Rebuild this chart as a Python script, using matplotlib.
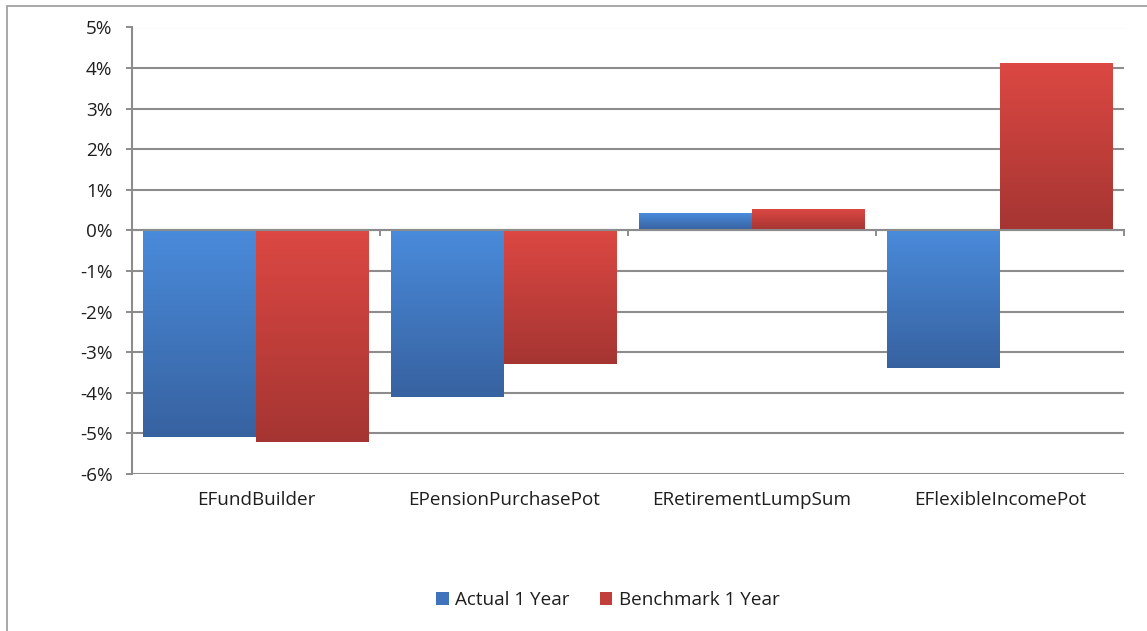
import numpy as np
import matplotlib.pyplot as plt
from matplotlib.colors import LinearSegmentedColormap
from matplotlib.patches import Patch, Rectangle

plt.rcParams['font.family'] = ['Open Sans', 'DejaVu Sans']

funds = ['EFundBuilder', 'EPensionPurchasePot', 'ERetirementLumpSum', 'EFlexibleIncomePot']
actual_1y = [-5.1, -4.1, 0.4, -3.4]
benchmark_1y = [-5.2, -3.3, 0.5, 4.1]
series_names = ['Actual 1 Year', 'Benchmark 1 Year']
yticks = list(range(-6, 6))

blue_cm = LinearSegmentedColormap.from_list('blue', ['#3762a0', '#4a8bdb'])
red_cm = LinearSegmentedColormap.from_list('red', ['#a53532', '#dc4843'])
grid_col = '#8c8c8c'
text_col = '#1e1e1e'
fs = 13.6

fig = plt.figure(figsize=(11.47, 6.31), dpi=100)
ax = fig.add_axes([132 / 1147, 1 - 474 / 631, 992 / 1147, 446.5 / 631])

# chart frame
fig.add_artist(Rectangle((7 / 1147, -0.1), 1.2, 1.1 - 6 / 631, transform=fig.transFigure,
                         fill=False, edgecolor='#9a9a9a', lw=1.2))

grad = np.linspace(0, 1, 256).reshape(-1, 1)
width = 0.455


def gradient_bar(x, val, cmap):
    lo, hi = min(0, val), max(0, val)
    ax.imshow(grad, extent=[x - width / 2, x + width / 2, lo, hi], origin='lower',
              aspect='auto', cmap=cmap, zorder=2, interpolation='bilinear')


for i in range(len(funds)):
    gradient_bar(i - width / 2, actual_1y[i], blue_cm)
    gradient_bar(i + width / 2, benchmark_1y[i], red_cm)

ax.set_xlim(-0.5, len(funds) - 0.5)
ax.set_ylim(-6, 5)
ax.set_yticks(yticks)
ax.set_yticklabels([f'{v}%' for v in yticks], fontsize=fs, color=text_col)
ax.tick_params(axis='y', length=4, width=1.4, color=grid_col, pad=10)
ax.yaxis.grid(True, color=grid_col, lw=1.5, zorder=0)
ax.set_axisbelow(True)

# category axis sits on zero, tick marks between groups
ax.spines['bottom'].set_position(('data', 0))
ax.spines['bottom'].set_color(grid_col)
ax.spines['bottom'].set_linewidth(1.5)
ax.spines['bottom'].set_zorder(5)
ax.set_xticks(np.arange(-0.5, len(funds)))
ax.set_xticklabels([])
ax.tick_params(axis='x', length=4, width=1.4, color=grid_col, direction='out')
ax.spines['left'].set_color(grid_col)
ax.spines['left'].set_linewidth(1.5)
for s in ['top', 'right']:
    ax.spines[s].set_visible(False)

for i, name in enumerate(funds):
    ax.text(i, -0.058, name, transform=ax.get_xaxis_transform(), ha='center', va='center',
            fontsize=fs, color=text_col)

handles = [Patch(facecolor='#3f74bd', edgecolor='none'),
           Patch(facecolor='#c13e3a', edgecolor='none')]
fig.legend(handles, series_names, loc='center', bbox_to_anchor=(608 / 1147, 1 - 600 / 631),
           ncol=2, frameon=False, fontsize=fs, handlelength=0.65, handleheight=0.65,
           handletextpad=0.35, columnspacing=1.6, labelcolor=text_col)

fig.savefig('out.png', dpi=100, facecolor='white')
